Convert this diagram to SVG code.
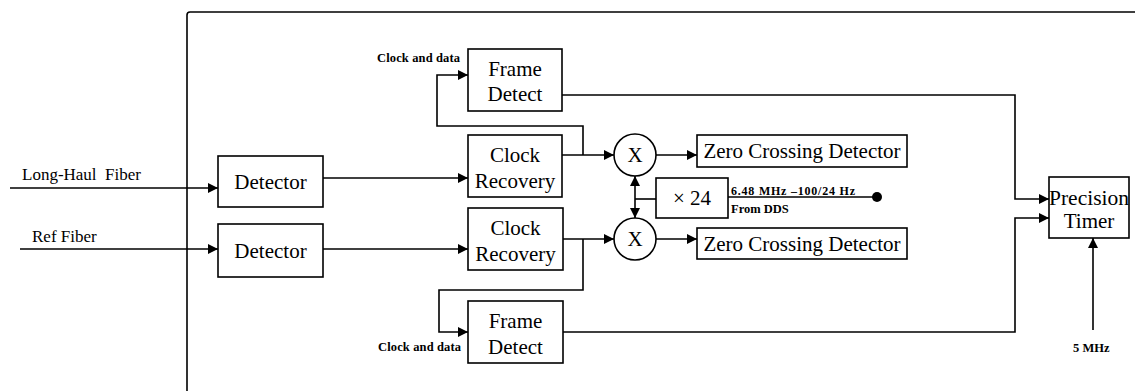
<svg xmlns="http://www.w3.org/2000/svg" width="1135" height="391" viewBox="0 0 1135 391">
  <style>
    .box { fill: #fff; stroke: #000; stroke-width: 1.6; }
    .wire { fill: none; stroke: #000; stroke-width: 1.6; }
    .lbl { font-family: "Liberation Serif", "Times New Roman", serif; font-size: 21px; fill: #000; text-anchor: middle; }
    .in { font-family: "Liberation Serif", "Times New Roman", serif; font-size: 17px; fill: #000; }
    .sm { font-family: "Liberation Serif", "Times New Roman", serif; font-size: 12.5px; font-weight: bold; fill: #000; }
  </style>
  <defs>
    <marker id="arr" viewBox="0 0 10 10" refX="10" refY="5" markerWidth="11" markerHeight="10" markerUnits="userSpaceOnUse" orient="auto">
      <path d="M0,0 L10,5 L0,10 Z" fill="#000"/>
    </marker>
  </defs>
  <rect width="1135" height="391" fill="#fff"/>

  <!-- enclosure -->
  <path class="wire" d="M187,391 V15 Q187,12 190,12 H1135" stroke-width="1.8"/>

  <g id="connectors">
    <!-- fiber inputs -->
    <line class="wire" x1="10" y1="188" x2="218" y2="188" marker-end="url(#arr)"/>
    <line class="wire" x1="20" y1="249" x2="218" y2="249" marker-end="url(#arr)"/>
    <!-- detectors to clock recovery -->
    <line class="wire" x1="323" y1="178" x2="468" y2="178" marker-end="url(#arr)"/>
    <line class="wire" x1="323" y1="249" x2="468" y2="249" marker-end="url(#arr)"/>
    <!-- clock recovery to mixers -->
    <line class="wire" x1="562" y1="155" x2="614" y2="155" marker-end="url(#arr)"/>
    <line class="wire" x1="563" y1="239" x2="614" y2="239" marker-end="url(#arr)"/>
    <!-- clock and data to frame detect -->
    <path class="wire" d="M583,155 V126 H437 V75 H468" marker-end="url(#arr)"/>
    <path class="wire" d="M583,239 V290 H439 V332 H468" marker-end="url(#arr)"/>
    <!-- mixers to zero crossing detectors -->
    <line class="wire" x1="656" y1="155" x2="697" y2="155" marker-end="url(#arr)"/>
    <line class="wire" x1="656" y1="239" x2="697" y2="239" marker-end="url(#arr)"/>
    <!-- x24 reference to mixers -->
    <line class="wire" x1="656" y1="199" x2="635" y2="199"/>
    <line class="wire" x1="635" y1="199" x2="635" y2="176" marker-end="url(#arr)"/>
    <line class="wire" x1="635" y1="199" x2="635" y2="218" marker-end="url(#arr)"/>
    <!-- DDS input -->
    <line class="wire" x1="728" y1="197" x2="877" y2="197"/>
    <circle cx="877" cy="197" r="5" fill="#000"/>
    <!-- frame detect to precision timer -->
    <path class="wire" d="M562,95 H1015 V199 H1049" marker-end="url(#arr)"/>
    <path class="wire" d="M563,332 H1015 V218 H1049" marker-end="url(#arr)"/>
    <!-- 5 MHz reference -->
    <line class="wire" x1="1093" y1="330" x2="1093" y2="238" marker-end="url(#arr)"/>
  </g>

  <g id="detector1">
    <rect class="box" x="218" y="156" width="105" height="51"/>
    <text class="lbl" x="270.5" y="189">Detector</text>
  </g>
  <g id="detector2">
    <rect class="box" x="218" y="224" width="105" height="53"/>
    <text class="lbl" x="270.5" y="258">Detector</text>
  </g>
  <g id="frame-detect1">
    <rect class="box" x="468" y="49" width="94" height="62"/>
    <text class="lbl" x="515" y="76">Frame</text>
    <text class="lbl" x="515" y="101">Detect</text>
  </g>
  <g id="clock-recovery1">
    <rect class="box" x="468" y="135" width="94" height="62"/>
    <text class="lbl" x="515" y="162">Clock</text>
    <text class="lbl" x="515" y="188">Recovery</text>
  </g>
  <g id="clock-recovery2">
    <rect class="box" x="468" y="208" width="95" height="62"/>
    <text class="lbl" x="515.5" y="235">Clock</text>
    <text class="lbl" x="515.5" y="261">Recovery</text>
  </g>
  <g id="frame-detect2">
    <rect class="box" x="468" y="301" width="95" height="62"/>
    <text class="lbl" x="515.5" y="328">Frame</text>
    <text class="lbl" x="515.5" y="354">Detect</text>
  </g>
  <g id="mixer1">
    <circle class="box" cx="635" cy="155" r="21"/>
    <text class="lbl" x="635" y="162">X</text>
  </g>
  <g id="mixer2">
    <circle class="box" cx="635" cy="239" r="21"/>
    <text class="lbl" x="635" y="246">X</text>
  </g>
  <g id="multiplier">
    <rect class="box" x="656" y="178" width="72" height="40"/>
    <text class="lbl" x="692" y="205">× 24</text>
  </g>
  <g id="zcd1">
    <rect class="box" x="697" y="135" width="210" height="32"/>
    <text class="lbl" x="802" y="158">Zero Crossing Detector</text>
  </g>
  <g id="zcd2">
    <rect class="box" x="697" y="228" width="210" height="31"/>
    <text class="lbl" x="802" y="251">Zero Crossing Detector</text>
  </g>
  <g id="precision-timer">
    <rect class="box" x="1049" y="177" width="80" height="61"/>
    <text class="lbl" x="1089" y="205" style="font-size:21.5px">Precision</text>
    <text class="lbl" x="1089" y="228">Timer</text>
  </g>

  <!-- labels -->
  <text class="in" x="22" y="180" xml:space="preserve">Long-Haul  Fiber</text>
  <text class="in" x="32" y="242">Ref Fiber</text>
  <text class="sm" x="377" y="62" textLength="83">Clock and data</text>
  <text class="sm" x="378" y="351" textLength="83">Clock and data</text>
  <text class="sm" x="731" y="195" textLength="124" style="font-size:12px">6.48 MHz –100/24 Hz</text>
  <text class="sm" x="731" y="213">From DDS</text>
  <text class="sm" x="1073" y="352">5 MHz</text>
</svg>
